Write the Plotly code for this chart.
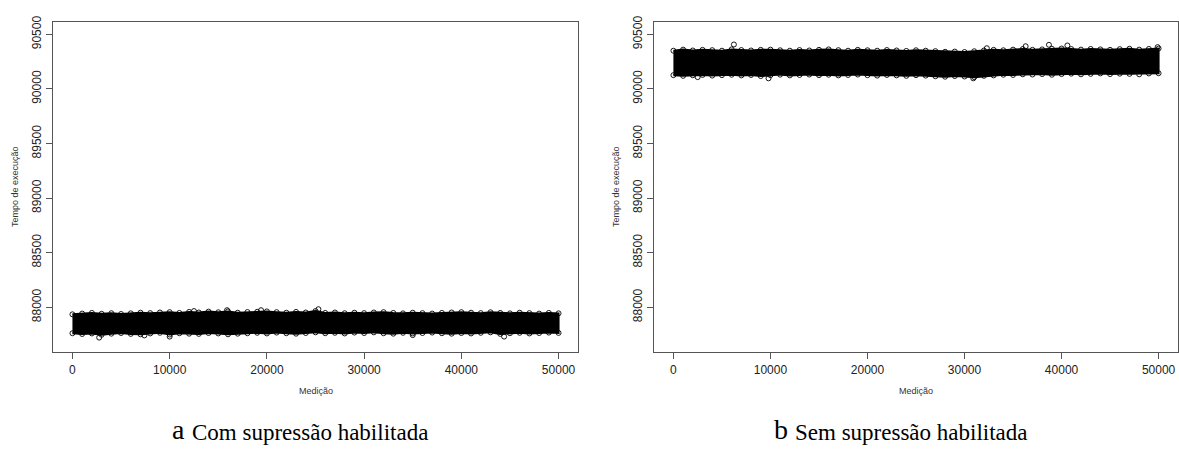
import plotly.graph_objects as go

# ---------------- data ----------------
band_x = list(range(0, 50001, 1000))

# Panel a: "Com supressão habilitada" – upper/lower extent of the dense cloud
a_upper = [87935, 87942, 87948, 87940, 87945, 87938, 87944, 87950, 87946, 87952,
           87955, 87948, 87957, 87952, 87960, 87954, 87962, 87950, 87956, 87958,
           87962, 87955, 87950, 87957, 87952, 87965, 87948, 87952, 87945, 87950,
           87946, 87952, 87955, 87948, 87944, 87950, 87946, 87942, 87948, 87952,
           87955, 87950, 87946, 87954, 87948, 87944, 87950, 87946, 87942, 87948, 87944]
a_lower = [87762, 87755, 87760, 87748, 87758, 87764, 87756, 87752, 87760, 87766,
           87750, 87762, 87758, 87756, 87764, 87760, 87752, 87758, 87762, 87766,
           87760, 87768, 87762, 87758, 87764, 87770, 87762, 87766, 87760, 87768,
           87764, 87770, 87762, 87758, 87766, 87760, 87764, 87768, 87762, 87758,
           87764, 87760, 87766, 87770, 87756, 87762, 87766, 87760, 87764, 87768, 87765]
a_out_x = [2750, 10000, 12500, 15900, 19400, 25300, 44400, 7400, 35000]
a_out_y = [87722, 87731, 87965, 87973, 87973, 87982, 87731, 87742, 87745]

# Panel b: "Sem supressão habilitada"
b_upper = [90350, 90360, 90352, 90358, 90355, 90350, 90362, 90356, 90352, 90358,
           90360, 90354, 90350, 90356, 90352, 90358, 90362, 90355, 90350, 90358,
           90354, 90350, 90356, 90352, 90348, 90354, 90350, 90346, 90340, 90342,
           90338, 90345, 90352, 90358, 90354, 90360, 90365, 90358, 90362, 90368,
           90370, 90365, 90360, 90366, 90362, 90358, 90364, 90368, 90360, 90366, 90370]
b_lower = [90126, 90120, 90125, 90128, 90122, 90126, 90130, 90124, 90128, 90118,
           90126, 90131, 90124, 90128, 90132, 90126, 90130, 90124, 90128, 90132,
           90126, 90122, 90128, 90124, 90120, 90126, 90122, 90116, 90112, 90118,
           90114, 90108, 90120, 90124, 90130, 90128, 90134, 90132, 90136, 90130,
           90136, 90140, 90134, 90138, 90142, 90136, 90140, 90138, 90134, 90142, 90144]
b_out_x = [6234, 9800, 30900, 32300, 36300, 38700, 40600, 49900, 2500]
b_out_y = [90407, 90097, 90097, 90373, 90391, 90404, 90398, 90383, 90108]

x_ticks = [0, 10000, 20000, 30000, 40000, 50000]
y_ticks = [88000, 88500, 89000, 89500, 90000, 90500]
x_range = [-2000, 52000]
y_range = [87587, 90615]

captions = [("a", "Com supressão habilitada"), ("b", "Sem supressão habilitada")]
y_title = "Tempo de execução"
x_title = "Medição"

# ---------------- figure ----------------
W, H = 1179, 451
fig = go.Figure()

panels = [
    ("x", "y", a_upper, a_lower, a_out_x, a_out_y),
    ("x2", "y2", b_upper, b_lower, b_out_x, b_out_y),
]
for xa, ya, up, lo, ox, oy in panels:
    fig.add_trace(go.Scatter(
        x=band_x + band_x[::-1], y=up + lo[::-1], xaxis=xa, yaxis=ya,
        mode="lines", fill="toself", fillcolor="black",
        line=dict(color="black", width=2), hoverinfo="skip", showlegend=False))
    fig.add_trace(go.Scatter(
        x=band_x + band_x + ox, y=up + lo + oy, xaxis=xa, yaxis=ya,
        mode="markers",
        marker=dict(symbol="circle-open", size=5, color="black", line=dict(width=0.9)),
        showlegend=False))

def px_x(p):
    return p / W

def px_y(p):
    return 1 - p / H

left_dom = [px_x(53), px_x(578)]
right_dom = [px_x(654), px_x(1178)]
y_dom = [px_y(351), px_y(16)]

axis_font = dict(family="Liberation Sans, Arial, sans-serif", size=12, color="#222")
common_x = dict(range=x_range, tickvals=x_ticks, ticktext=[str(v) for v in x_ticks],
                showline=True, mirror=True, linecolor="#555", linewidth=1,
                ticks="outside", ticklen=6, tickcolor="#555", showgrid=False,
                zeroline=False, tickfont=axis_font)
common_y = dict(range=y_range, tickvals=y_ticks, ticktext=[str(v) for v in y_ticks],
                showline=True, mirror=True, linecolor="#555", linewidth=1,
                ticks="outside", ticklen=6, tickcolor="#555", showgrid=False,
                zeroline=False, tickfont=axis_font, tickangle=-90, domain=y_dom)

fig.update_layout(
    width=W, height=H, margin=dict(l=0, r=0, t=0, b=0),
    paper_bgcolor="white", plot_bgcolor="white",
    xaxis=dict(common_x, domain=left_dom, anchor="y"),
    yaxis=dict(common_y, anchor="x"),
    xaxis2=dict(common_x, domain=right_dom, anchor="y2"),
    yaxis2=dict(common_y, anchor="x2"),
)

small = dict(family="Liberation Sans, Arial, sans-serif", size=9, color="#333")
serif = "Liberation Serif, Times New Roman, serif"
centers_x = [(53 + 578) / 2, (654 + 1178) / 2]
ytitle_x = [15, 616]
letter_right = [186, 789]
for i in range(2):
    fig.add_annotation(x=px_x(ytitle_x[i]), y=px_y((16 + 351) / 2), xref="paper", yref="paper",
                       text=y_title, textangle=-90, showarrow=False, font=small,
                       xanchor="center", yanchor="middle")
    fig.add_annotation(x=px_x(centers_x[i]), y=px_y(390), xref="paper", yref="paper",
                       text=x_title, showarrow=False, font=small,
                       xanchor="center", yanchor="middle")
    letter, cap = captions[i]
    fig.add_annotation(x=px_x(letter_right[i]), y=px_y(446), xref="paper", yref="paper",
                       text=letter, showarrow=False, borderpad=0,
                       font=dict(family=serif, size=28, color="black"),
                       xanchor="right", yanchor="bottom")
    fig.add_annotation(x=px_x(letter_right[i] + 5), y=px_y(446), xref="paper", yref="paper",
                       text=cap, showarrow=False, borderpad=0,
                       font=dict(family=serif, size=23, color="black"),
                       xanchor="left", yanchor="bottom")

fig.write_html("out.html")
